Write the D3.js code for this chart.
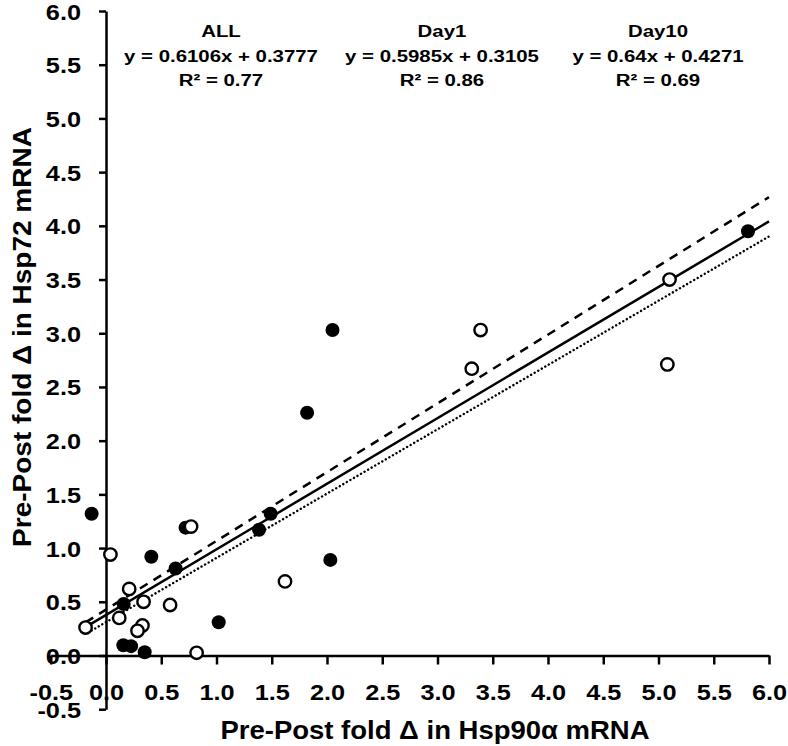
<!DOCTYPE html>
<html>
<head>
<meta charset="utf-8">
<script src="https://cdn.jsdelivr.net/npm/d3@7"></script>
<style>
  body { margin: 0; background: #fff; }
  text { font-family: "Liberation Sans", Arial, sans-serif; font-weight: bold; fill: #000; }
</style>
</head>
<body>
<div class="chart"></div>
<script>
// Data
//= ================================
var filledX = [-0.13, 0.41, 0.72, 0.63, 1.385, 1.49, 0.16, 0.157, 0.227, 0.35, 1.02, 1.82, 2.03, 2.05, 5.81];
var filledY = [1.32, 0.92, 1.19, 0.81, 1.17, 1.32, 0.48, 0.096, 0.087, 0.03, 0.31, 2.26, 0.89, 3.03, 3.95];

var openX = [0.04, 0.77, 1.62, 0.21, 0.34, 0.58, -0.185, 0.12, 0.33, 0.285, 0.82, 3.31, 3.39, 5.10, 5.08];
var openY = [0.94, 1.20, 0.69, 0.62, 0.50, 0.47, 0.26, 0.35, 0.28, 0.23, 0.025, 2.67, 3.03, 3.50, 2.71];

// trendlines: ALL, Day1, Day10
var fitNames = ["ALL", "Day1", "Day10"];
var fitSlopes = [0.6106, 0.5985, 0.64];
var fitIntercepts = [0.3777, 0.3105, 0.4271];
var fitR2 = ["0.77", "0.86", "0.69"];
var fitStartX = [-0.185, -0.13, -0.185];
var fitEndX = 6.0;

var xTicks = [-0.5, 0, 0.5, 1, 1.5, 2, 2.5, 3, 3.5, 4, 4.5, 5, 5.5, 6];
var yTicks = [-0.5, 0, 0.5, 1, 1.5, 2, 2.5, 3, 3.5, 4, 4.5, 5, 5.5, 6];

var xTitle = "Pre-Post fold \u0394 in Hsp90\u03b1 mRNA";
var yTitle = "Pre-Post fold \u0394 in Hsp72 mRNA";

// Step 1: Set up chart
//= ================================
var svgWidth = 788;
var svgHeight = 746;

var svg = d3.select(".chart")
  .append("svg")
  .attr("width", svgWidth)
  .attr("height", svgHeight);

// 0 -> 106px, 6 -> 769px ; 0 -> 655.5px, 6 -> 11px
var xScale = d3.scaleLinear().domain([-0.5, 6]).range([106 - 663 / 12, 769]);
var yScale = d3.scaleLinear().domain([-0.5, 6]).range([655.5 + 644.5 / 12, 11]);

// helper: text that is a bit wider than the font (like the source image)
function wideText(g, x, y, str, size, sx, anchor) {
  return g.append("text")
    .attr("transform", `translate(${x},${y}) scale(${sx},1)`)
    .attr("text-anchor", anchor || "middle")
    .attr("font-size", size)
    .text(str);
}

var fmt = d => d.toFixed(1);

// Step 2: axes
//= ================================
var bottomAxis = d3.axisBottom(xScale)
  .tickValues(xTicks)
  .tickSize(9)
  .tickSizeOuter(0)
  .tickFormat(fmt);

var leftAxis = d3.axisLeft(yScale)
  .tickValues(yTicks)
  .tickSize(7)
  .tickSizeOuter(0)
  .tickFormat(fmt);

var xAxisG = svg.append("g")
  .attr("transform", `translate(0, ${yScale(0)})`)
  .call(bottomAxis);

var yAxisG = svg.append("g")
  .attr("transform", `translate(${xScale(0)}, 0)`)
  .call(leftAxis);

[xAxisG, yAxisG].forEach(function (g) {
  g.selectAll("path, line")
    .attr("stroke", "#000")
    .attr("stroke-width", 2.5);
  g.selectAll("text")
    .attr("font-family", null)
    .attr("font-size", null)
    .style("font-size", "22px")
    .attr("fill", "#000");
});

// tick label placement
xAxisG.selectAll(".tick text")
  .attr("y", null)
  .attr("dy", null)
  .attr("text-anchor", "middle")
  .attr("transform", "translate(0, 44) scale(1.15,1)");

yAxisG.selectAll(".tick text")
  .attr("x", null)
  .attr("dy", null)
  .attr("text-anchor", "end")
  .attr("transform", "translate(-25, 8) scale(1.15,1)");

// Step 3: trendlines
//= ================================
var lineStyles = [
  { dash: null, width: 2.5, cap: "butt" },
  { dash: "0.1,4", width: 2.4, cap: "round" },
  { dash: "9,7", width: 2.5, cap: "butt" }
];

fitNames.forEach(function (name, i) {
  var pts = [fitStartX[i], fitEndX].map(function (x) {
    return [xScale(x), yScale(fitSlopes[i] * x + fitIntercepts[i])];
  });
  svg.append("path")
    .attr("d", d3.line()(pts))
    .attr("fill", "none")
    .attr("stroke", "#000")
    .attr("stroke-width", lineStyles[i].width)
    .attr("stroke-linecap", lineStyles[i].cap)
    .attr("stroke-dasharray", lineStyles[i].dash);
});

// Step 4: points
//= ================================
svg.selectAll(".filled")
  .data(filledX)
  .enter()
  .append("circle")
  .attr("class", "filled")
  .attr("cx", (d, i) => xScale(d))
  .attr("cy", (d, i) => yScale(filledY[i]))
  .attr("r", 7)
  .attr("fill", "#000");

svg.selectAll(".open")
  .data(openX)
  .enter()
  .append("circle")
  .attr("class", "open")
  .attr("cx", (d, i) => xScale(d))
  .attr("cy", (d, i) => yScale(openY[i]))
  .attr("r", 6.2)
  .attr("fill", "#fff")
  .attr("stroke", "#000")
  .attr("stroke-width", 2.4);

// Step 5: equations
//= ================================
var eqCenters = [221, 442, 658];
fitNames.forEach(function (name, i) {
  var cx = eqCenters[i];
  wideText(svg, cx, 37, name, 17, 1.2);
  wideText(svg, cx, 61.5, `y = ${fitSlopes[i]}x + ${fitIntercepts[i]}`, 17, 1.2);
  wideText(svg, cx, 85.5, `R\u00b2 = ${fitR2[i]}`, 17, 1.2);
});

// Step 6: axis titles
//= ================================
wideText(svg, 435, 739, xTitle, 25, 1.1);

svg.append("text")
  .attr("transform", "translate(31, 337) rotate(-90) scale(1.12,1)")
  .attr("text-anchor", "middle")
  .attr("font-size", 25)
  .text(yTitle);
</script>
</body>
</html>
